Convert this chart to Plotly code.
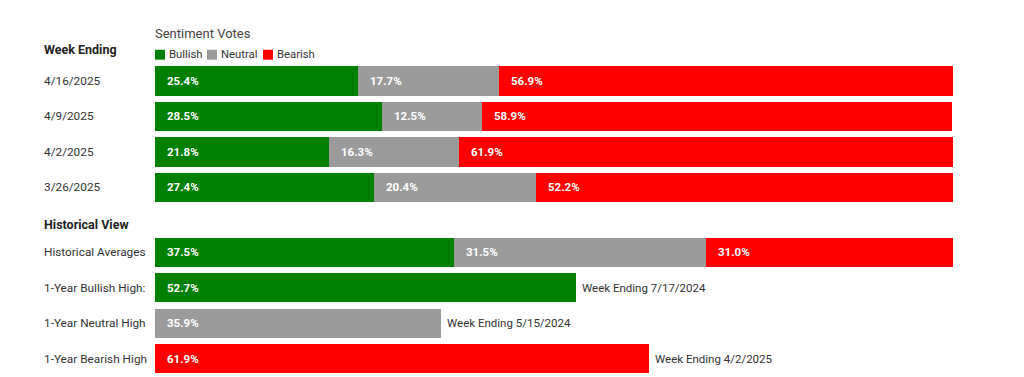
import plotly.graph_objects as go

# ---- data ----
weeks = ["4/16/2025", "4/9/2025", "4/2/2025", "3/26/2025"]
week_bullish = [25.4, 28.5, 21.8, 27.4]
week_neutral = [17.7, 12.5, 16.3, 20.4]
week_bearish = [56.9, 58.9, 61.9, 52.2]

hist_label = "Historical Averages"
hist_bullish = 37.5
hist_neutral = 31.5
hist_bearish = 31.0

high_labels = ["1-Year Bullish High:", "1-Year Neutral High", "1-Year Bearish High"]
high_values = [52.7, 35.9, 61.9]
high_dates = ["Week Ending 7/17/2024", "Week Ending 5/15/2024", "Week Ending 4/2/2025"]

series_names = ["Bullish", "Neutral", "Bearish"]
colors = ["#008000", "#9b9b9b", "#ff0000"]

# ---- layout positions (row slots) ----
week_pos = [0, 1, 2, 3]
hist_pos = 4.82
high_pos = [5.82, 6.82, 7.82]

FONT = "Roboto"
TXT = "#333333"

fig = go.Figure()

bull_y = week_pos + [hist_pos, high_pos[0]]
bull_x = week_bullish + [hist_bullish, high_values[0]]
neut_y = week_pos + [hist_pos, high_pos[1]]
neut_x = week_neutral + [hist_neutral, high_values[1]]
bear_y = week_pos + [hist_pos, high_pos[2]]
bear_x = week_bearish + [hist_bearish, high_values[2]]

for name, xs, ys, c in zip(series_names, [bull_x, neut_x, bear_x], [bull_y, neut_y, bear_y], colors):
    fig.add_trace(go.Bar(x=xs, y=ys, orientation="h", name=name, width=0.82,
                         marker=dict(color=c, line=dict(width=0)), showlegend=False,
                         hoverinfo="x+name"))

ann = []
def val_label(x0, y, v):
    ann.append(dict(x=x0, y=y, xref="x", yref="y", text=f"{v:.1f}%", showarrow=False,
                    xanchor="left", yanchor="middle", xshift=10,
                    font=dict(family=FONT, size=11.5, color="white", weight="bold")))

for i, p in enumerate(week_pos):
    val_label(0, p, week_bullish[i])
    val_label(week_bullish[i], p, week_neutral[i])
    val_label(week_bullish[i] + week_neutral[i], p, week_bearish[i])
val_label(0, hist_pos, hist_bullish)
val_label(hist_bullish, hist_pos, hist_neutral)
val_label(hist_bullish + hist_neutral, hist_pos, hist_bearish)
for p, v, d in zip(high_pos, high_values, high_dates):
    val_label(0, p, v)
    ann.append(dict(x=v, y=p, xref="x", yref="y", text=d, showarrow=False,
                    xanchor="left", yanchor="middle", xshift=4,
                    font=dict(family=FONT, size=11.5, color=TXT)))

LX = (42 - 155) / 798
def row_label(y, text, bold=False):
    ann.append(dict(x=LX, y=y, xref="paper", yref="y", text=text, showarrow=False,
                    xanchor="left", yanchor="middle",
                    font=dict(family=FONT, size=12.5 if bold else 11.8, color="#222222" if bold else TXT,
                              weight="bold" if bold else "normal")))

for p, w in zip(week_pos, weeks):
    row_label(p, w)
row_label(hist_pos, hist_label)
for p, l in zip(high_pos, high_labels):
    row_label(p, l)
row_label(-0.9, "Week Ending", bold=True)
row_label(4.03, "Historical View", bold=True)

# title of legend
ann.append(dict(x=0, y=-1.33, xref="paper", yref="y", text="Sentiment Votes", showarrow=False,
                xanchor="left", yanchor="middle", xshift=-2,
                font=dict(family=FONT, size=13, color="#444444")))

# legend (custom)
shapes = []
leg_x = [155, 207, 263]
for lx, name, c in zip(leg_x, series_names, colors):
    x0 = (lx - 155) / 798
    x1 = (lx + 10 - 155) / 798
    shapes.append(dict(type="rect", xref="paper", yref="y", x0=x0, x1=x1, y0=-0.88, y1=-0.6,
                       fillcolor=c, line=dict(width=0)))
    ann.append(dict(x=x1, y=-0.74, xref="paper", yref="y", text=name, showarrow=False,
                    xanchor="left", yanchor="middle", xshift=2,
                    font=dict(family=FONT, size=11.3, color=TXT)))

# page body has an 8px margin: figure occupies 8..1024 x 8..377
fig.update_layout(
    width=1016, height=369,
    margin=dict(l=147, r=71, t=0, b=0),
    barmode="stack", bargap=0,
    plot_bgcolor="white", paper_bgcolor="white",
    xaxis=dict(range=[0, 100], visible=False, fixedrange=True),
    yaxis=dict(range=[8.34, -2.056], visible=False, fixedrange=True),
    annotations=ann, shapes=shapes,
    font=dict(family=FONT),
)

fig.write_html("out.html")
